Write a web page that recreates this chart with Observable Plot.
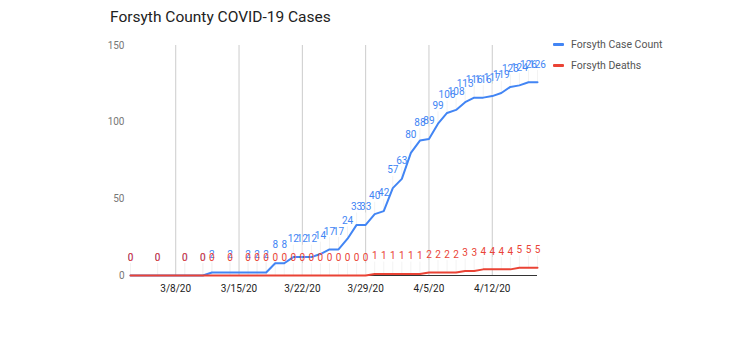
<!DOCTYPE html>
<html>
<head>
<meta charset="utf-8">
<script src="https://cdn.jsdelivr.net/npm/d3@7"></script>
<script src="https://cdn.jsdelivr.net/npm/@observablehq/plot@0.6"></script>
<style>
  html, body { margin: 0; padding: 0; background: #fff; }
  #wrap { position: relative; width: 734px; height: 350px; font-family: Roboto, sans-serif; }
  #title { position: absolute; left: 110px; top: 8px; font-size: 15.5px; color: #222; white-space: nowrap; }
  #legend { position: absolute; left: 553px; top: 34px; font-size: 10.5px; color: #555; }
  .li { display: flex; align-items: center; height: 21px; white-space: nowrap; }
  .sw { width: 11px; height: 3px; margin-right: 7px; border-radius: 1px; }
  #chart { position: absolute; left: 0; top: 0; }
</style>
</head>
<body>
<div id="wrap">
  <div id="chart"></div>
  <div id="title"></div>
  <div id="legend"></div>
</div>
<script>
const titleText = "Forsyth County COVID-19 Cases";
const seriesNames = ["Forsyth Case Count", "Forsyth Deaths"];
const seriesColors = ["#4285F4", "#EA4335"];

const dates = [
  "2020-03-03","2020-03-06","2020-03-09","2020-03-11","2020-03-12","2020-03-14",
  "2020-03-16","2020-03-17","2020-03-18","2020-03-19","2020-03-20","2020-03-21",
  "2020-03-22","2020-03-23","2020-03-24","2020-03-25","2020-03-26","2020-03-27",
  "2020-03-28","2020-03-29","2020-03-30","2020-03-31","2020-04-01","2020-04-02",
  "2020-04-03","2020-04-04","2020-04-05","2020-04-06","2020-04-07","2020-04-08",
  "2020-04-09","2020-04-10","2020-04-11","2020-04-12","2020-04-13","2020-04-14",
  "2020-04-15","2020-04-16","2020-04-17"
];
const cases = [
  0,0,0,0,2,2,
  2,2,2,8,8,12,
  12,12,14,17,17,24,
  33,33,40,42,57,63,
  80,88,89,99,106,108,
  113,116,116,117,119,123,
  124,126,126
];
const deaths = [
  0,0,0,0,0,0,
  0,0,0,0,0,0,
  0,0,0,0,0,0,
  0,0,1,1,1,1,
  1,1,2,2,2,2,
  3,3,4,4,4,4,
  5,5,5
];
const xTicks = ["2020-03-08","2020-03-15","2020-03-22","2020-03-29","2020-04-05","2020-04-12"];
const yTicks = [0, 50, 100, 150];

const parse = s => new Date(s + "T00:00:00Z");
const rows = dates.map((d, i) => ({date: parse(d), cases: cases[i], deaths: deaths[i]}));
const tickDates = xTicks.map(parse);
const fmt = d => `${d.getUTCMonth() + 1}/${d.getUTCDate()}/${String(d.getUTCFullYear()).slice(2)}`;

document.getElementById("title").textContent = titleText;
const legend = document.getElementById("legend");
seriesNames.forEach((n, i) => {
  const li = document.createElement("div");
  li.className = "li";
  li.innerHTML = `<span class="sw" style="background:${seriesColors[i]}"></span><span>${n}</span>`;
  legend.appendChild(li);
});

const stem = {draw(context, l) { context.moveTo(0, 0); context.lineTo(0, -l); }};

const chart = Plot.plot({
  width: 734,
  height: 350,
  marginLeft: 130,
  marginRight: 197,
  marginTop: 45,
  marginBottom: 75,
  style: {fontFamily: "Roboto, sans-serif", fontSize: "10px", background: "white", overflow: "visible"},
  x: {type: "utc", domain: [rows[0].date, rows[rows.length - 1].date]},
  y: {domain: [0, 150]},
  marks: [
    Plot.ruleX(tickDates, {stroke: "#cccccc", strokeWidth: 1}),
    Plot.vector(rows, {x: "date", y: "cases", length: 12, rotate: 0, anchor: "start", shape: stem, stroke: "#f3f3f3", strokeWidth: 1}),
    Plot.vector(rows, {x: "date", y: "deaths", length: 12, rotate: 0, anchor: "start", shape: stem, stroke: "#f3f3f3", strokeWidth: 1}),
    Plot.ruleY([0], {stroke: "#333333", strokeWidth: 1}),
    Plot.axisY({ticks: yTicks, tickSize: 0, tickPadding: 6, color: "#777777", fontSize: 10}),
    Plot.axisX({ticks: tickDates, tickSize: 0, tickPadding: 9, tickFormat: fmt, color: "#222222", fontSize: 10}),
    Plot.line(rows, {x: "date", y: "cases", stroke: seriesColors[0], strokeWidth: 2}),
    Plot.line(rows, {x: "date", y: "deaths", stroke: seriesColors[1], strokeWidth: 2}),
    Plot.text(rows, {x: "date", y: "cases", text: d => String(d.cases), dy: -18, fill: seriesColors[0], fontSize: 10}),
    Plot.text(rows, {x: "date", y: "deaths", text: d => String(d.deaths), dy: -18, fill: seriesColors[1], fontSize: 10})
  ]
});
document.getElementById("chart").appendChild(chart);
</script>
</body>
</html>
